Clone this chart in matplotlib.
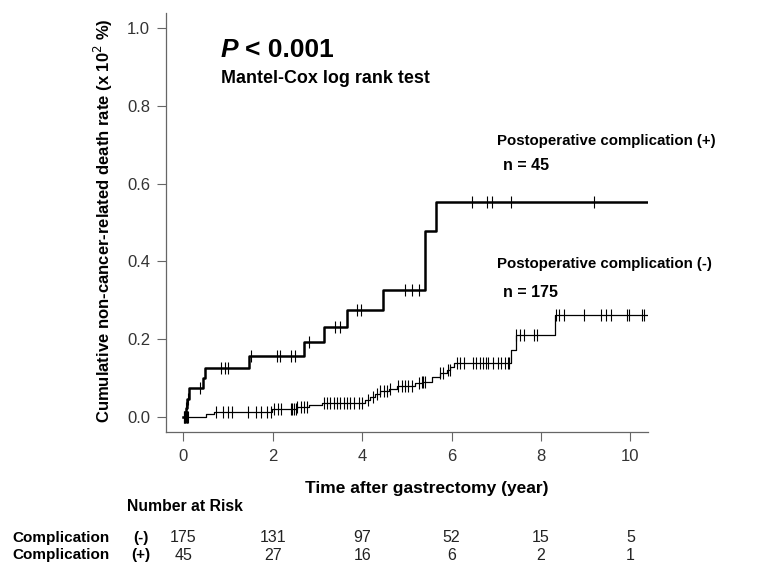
import matplotlib
matplotlib.use("Agg")
import matplotlib.pyplot as plt
import matplotlib.transforms as mtransforms

plt.rcParams['font.family'] = ['Liberation Sans', 'DejaVu Sans']

# step curves: time of each step and cumulative rate after it
pos_times = [0, 0.05, 0.09, 0.13, 0.43, 0.49, 1.46, 2.69, 3.15, 3.67, 4.46, 5.40, 5.66]
pos_rates = [0, 0.022, 0.045, 0.073, 0.099, 0.125, 0.155, 0.192, 0.232, 0.274, 0.326, 0.478, 0.553]
pos_censor = [0.02, 0.03, 0.06, 0.10, 0.36, 0.84, 0.93, 1.00, 1.51, 2.10, 2.15, 2.40, 2.49,
              2.81, 3.39, 3.51, 3.88, 3.98, 4.95, 5.12, 5.27, 6.46, 6.79, 6.90, 7.33, 9.19]

neg_times = [0, 0.50, 0.69, 1.99, 2.55, 2.80, 3.10, 4.07, 4.18, 4.29, 4.40, 4.59, 4.77,
             5.18, 5.33, 5.55, 5.74, 5.89, 5.97, 6.05, 7.33, 7.43, 8.31]
neg_rates = [0, 0.007, 0.013, 0.019, 0.025, 0.030, 0.036, 0.043, 0.052, 0.059, 0.065, 0.071, 0.078,
             0.086, 0.090, 0.103, 0.112, 0.121, 0.129, 0.138, 0.172, 0.211, 0.263]
neg_censor = [0.01, 0.03, 0.05, 0.07, 0.09, 0.11, 0.73, 0.88, 0.99, 1.08, 1.45, 1.62, 1.74, 1.86, 1.95,
              2.03, 2.12, 2.19, 2.40, 2.44, 2.47, 2.51, 2.55, 2.62, 2.69, 2.77,
              3.14, 3.21, 3.27, 3.36, 3.44, 3.51, 3.59, 3.66, 3.73, 3.81, 3.92, 3.99,
              4.14, 4.25, 4.33, 4.40, 4.48, 4.55, 4.63, 4.81, 4.88, 4.96, 5.03, 5.11,
              5.26, 5.33, 5.37, 5.40, 5.74, 5.81, 5.92, 5.96,
              6.11, 6.18, 6.28, 6.48, 6.55, 6.63, 6.70, 6.78, 6.82, 6.93, 7.04, 7.11, 7.19, 7.26, 7.29,
              7.45, 7.52, 7.62, 7.85, 7.91,
              8.34, 8.41, 8.51, 8.97, 9.35, 9.45, 9.56, 9.92, 9.97, 10.25, 10.31]
t_end = 10.38

risk_times = [0, 2, 4, 6, 8, 10]
risk_neg = [175, 131, 97, 52, 15, 5]
risk_pos = [45, 27, 16, 6, 2, 1]


def rate_at(t, times, rates):
    r = rates[0]
    for tt, rr in zip(times, rates):
        if tt <= t:
            r = rr
    return r


W, H = 764, 565
fig = plt.figure(figsize=(W / 100, H / 100), dpi=100)
ax = fig.add_axes([166 / W, 1 - 431.7 / H, (648.3 - 166) / W, (431.7 - 12.7) / H])

for times, rates, censor, lw in [(neg_times, neg_rates, neg_censor, 0.9),
                                 (pos_times, pos_rates, pos_censor, 1.8)]:
    ax.step(times + [t_end], rates + [rates[-1]], where='post', color='black', lw=lw)
    ax.plot(censor, [rate_at(t, times, rates) for t in censor], ls='none',
            marker='|', ms=8, mew=0.8, color='black')

ax.set_xlim(-0.39, 10.40)
ax.set_ylim(-0.0386, 1.040)
ax.set_xticks([0, 2, 4, 6, 8, 10])
ax.set_yticks([0, 0.2, 0.4, 0.6, 0.8, 1.0])
ax.set_yticklabels(['0.0', '0.2', '0.4', '0.6', '0.8', '1.0'])
for s in ['top', 'right']:
    ax.spines[s].set_visible(False)
for s in ['left', 'bottom']:
    ax.spines[s].set_color('#666666')
    ax.spines[s].set_linewidth(0.9)
ax.tick_params(direction='out', length=6.5, width=0.8, color='#666666',
               labelsize=12, labelcolor='#333333', pad=5)
ax.tick_params(axis='x', pad=6)

fig.text(103 / W, 1 - 221 / H, 'Cumulative non-cancer-related death rate (x 10$^2$ %)',
         rotation=90, ha='center', va='center', fontsize=12, fontweight='bold')
fig.text(427 / W, 1 - 493 / H, 'Time after gastrectomy (year)', ha='center',
         va='baseline', fontsize=12.5, fontweight='bold')

fig.text(221 / W, 1 - 57.3 / H, 'P', fontsize=19, fontweight='bold', style='italic',
         va='baseline')
fig.text(245 / W, 1 - 57.3 / H, '< 0.001', fontsize=19, fontweight='bold', va='baseline')
fig.text(221 / W, 1 - 83 / H, 'Mantel-Cox log rank test', fontsize=12.9,
         fontweight='bold', va='baseline')

fig.text(497 / W, 1 - 145 / H, 'Postoperative complication (+)', fontsize=10.8,
         fontweight='bold', va='baseline')
fig.text(503 / W, 1 - 170 / H, 'n = 45', fontsize=11.5, fontweight='bold', va='baseline')
fig.text(497 / W, 1 - 268 / H, 'Postoperative complication (-)', fontsize=10.8,
         fontweight='bold', va='baseline')
fig.text(503 / W, 1 - 297 / H, 'n = 175', fontsize=11.5, fontweight='bold', va='baseline')

# number at risk table
fig.text(127 / W, 1 - 506.7 / H, 'Number at Risk', fontsize=11.3, fontweight='bold',
         va='center')
trans = mtransforms.blended_transform_factory(ax.transData, fig.transFigure)
for row_y, sign, counts in [(538, '(-)', risk_neg), (555, '(+)', risk_pos)]:
    fig.text(12 / W, 1 - row_y / H, 'Complication', fontsize=11, fontweight='bold',
             va='center')
    fig.text(141 / W, 1 - row_y / H, sign, fontsize=11, fontweight='bold',
             va='center', ha='center')
    for t, c in zip(risk_times, counts):
        ax.text(t, 1 - row_y / H, str(c), transform=trans, clip_on=False,
                fontsize=11.5, ha='center', va='center', color='#222222')

fig.savefig('out.png', dpi=100)
